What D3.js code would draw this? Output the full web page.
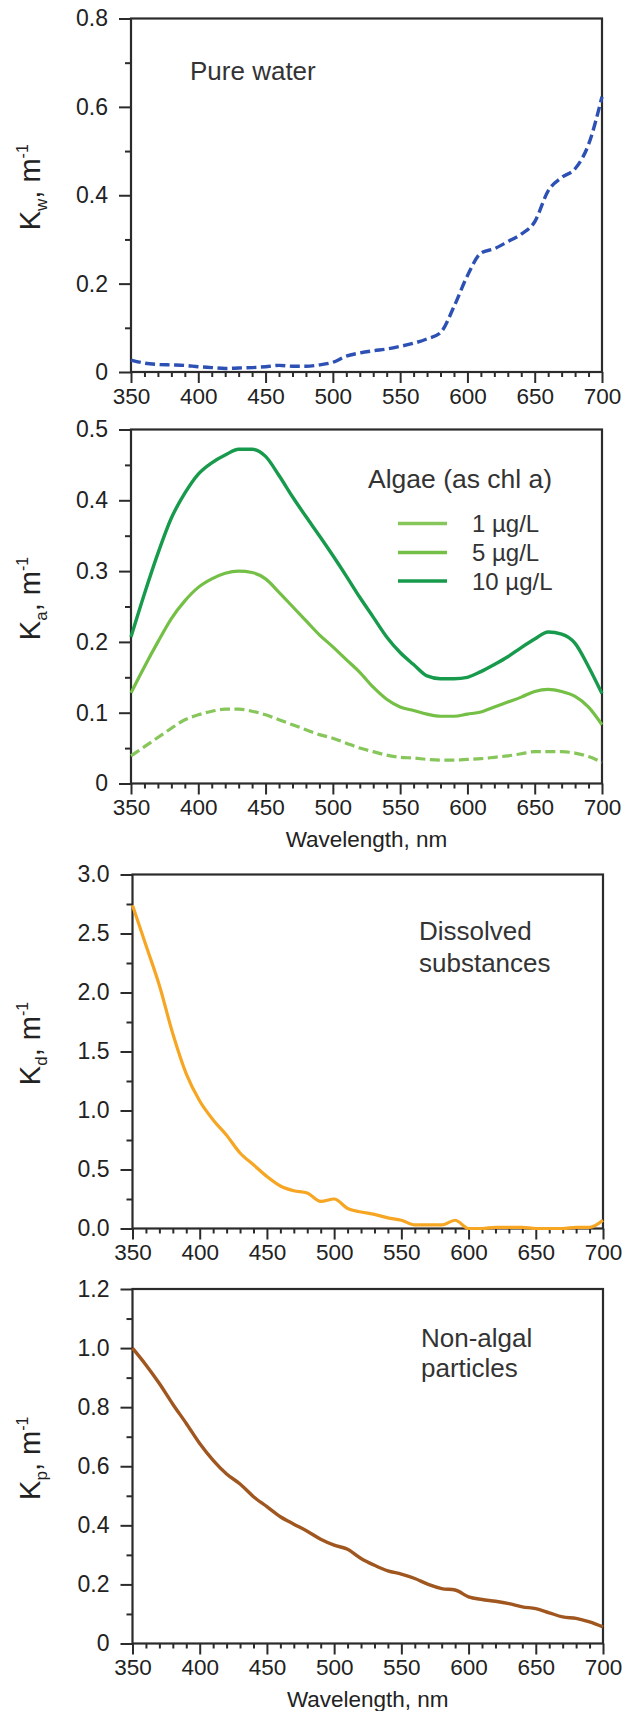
<!DOCTYPE html>
<html>
<head>
<meta charset="utf-8">
<script src="https://cdn.jsdelivr.net/npm/d3@7"></script>
<style>
  html, body { margin: 0; padding: 0; background: #fff; }
  svg { display: block; }
  text { font-family: "Liberation Sans", Arial, sans-serif; }
</style>
</head>
<body>
<script>
// ---------------- DATA ----------------
const wavelength = [350,360,370,380,390,400,410,420,430,440,450,460,470,480,490,500,510,520,530,540,550,560,570,580,590,600,610,620,630,640,650,660,670,680,690,700];

const pureWater = [0.027,0.020,0.017,0.016,0.015,0.012,0.010,0.008,0.009,0.010,0.012,0.015,0.013,0.013,0.016,0.022,0.036,0.043,0.048,0.052,0.058,0.065,0.075,0.089,0.148,0.218,0.269,0.279,0.295,0.312,0.340,0.410,0.440,0.460,0.515,0.623];

const algae1  = [0.039,0.052,0.065,0.078,0.090,0.097,0.102,0.105,0.105,0.102,0.097,0.090,0.083,0.076,0.069,0.064,0.057,0.050,0.045,0.040,0.037,0.036,0.034,0.033,0.033,0.034,0.035,0.037,0.039,0.042,0.045,0.045,0.045,0.043,0.038,0.030];
const algae5  = [0.128,0.165,0.200,0.233,0.258,0.277,0.289,0.297,0.300,0.298,0.289,0.270,0.250,0.230,0.210,0.193,0.175,0.157,0.136,0.119,0.108,0.103,0.098,0.095,0.095,0.098,0.101,0.108,0.115,0.122,0.130,0.133,0.130,0.123,0.108,0.083];
const algae10 = [0.207,0.268,0.325,0.375,0.410,0.437,0.453,0.464,0.472,0.472,0.462,0.435,0.405,0.377,0.350,0.322,0.293,0.263,0.235,0.207,0.185,0.168,0.152,0.148,0.148,0.150,0.158,0.168,0.179,0.192,0.204,0.214,0.211,0.198,0.165,0.127];

const dissolved = [2.74,2.40,2.06,1.65,1.31,1.08,0.92,0.79,0.64,0.54,0.44,0.36,0.32,0.30,0.23,0.25,0.17,0.14,0.12,0.09,0.07,0.03,0.03,0.03,0.07,0.00,0.00,0.01,0.01,0.01,0.00,0.00,0.00,0.01,0.01,0.07];

const nonAlgal = [1.00,0.943,0.880,0.810,0.745,0.677,0.620,0.574,0.540,0.497,0.463,0.429,0.404,0.380,0.353,0.333,0.319,0.288,0.265,0.246,0.235,0.220,0.200,0.186,0.181,0.158,0.149,0.143,0.135,0.124,0.118,0.104,0.090,0.085,0.073,0.056];

const xTicks = [350,400,450,500,550,600,650,700];
const xMinorTicks = [360,370,380,390,410,420,430,440,460,470,480,490,510,520,530,540,560,570,580,590,610,620,630,640,660,670,680,690];

const yTicksWater = [0,0.2,0.4,0.6,0.8];
const yLabelsWater = ["0","0.2","0.4","0.6","0.8"];
const yMinorWater = [0.1,0.3,0.5,0.7];

const yTicksAlgae = [0,0.1,0.2,0.3,0.4,0.5];
const yLabelsAlgae = ["0","0.1","0.2","0.3","0.4","0.5"];
const yMinorAlgae = [0.05,0.15,0.25,0.35,0.45];

const yTicksDiss = [0,0.5,1.0,1.5,2.0,2.5,3.0];
const yLabelsDiss = ["0.0","0.5","1.0","1.5","2.0","2.5","3.0"];
const yMinorDiss = [0.25,0.75,1.25,1.75,2.25,2.75];

const yTicksPart = [0,0.2,0.4,0.6,0.8,1.0,1.2];
const yLabelsPart = ["0","0.2","0.4","0.6","0.8","1.0","1.2"];
const yMinorPart = [0.1,0.3,0.5,0.7,0.9,1.1];

const legendLabels = ["1 µg/L","5 µg/L","10 µg/L"];
const xTitle = "Wavelength, nm";

// ---------------- DRAW ----------------
const W = 637, H = 1711;
const svg = d3.select("body").append("svg").attr("width", W).attr("height", H);
const axisColor = "#2b2b2b";
const textColor = "#222";

function panel(cfg) {
  const g = svg.append("g");
  const x = d3.scaleLinear().domain([350, 700]).range([cfg.x0, cfg.x1]);
  const y = d3.scaleLinear().domain([0, cfg.ymax]).range([cfg.y1, cfg.y0]);

  // minor x ticks
  g.append("g").attr("transform", `translate(0,${cfg.y1})`)
    .call(d3.axisBottom(x).tickValues(xMinorTicks).tickSize(5).tickFormat(""))
    .call(s => s.select(".domain").remove())
    .call(s => s.selectAll("line").attr("stroke", axisColor).attr("stroke-width", 2));
  // major x ticks
  const xa = g.append("g").attr("transform", `translate(0,${cfg.y1})`)
    .call(d3.axisBottom(x).tickValues(xTicks).tickSize(11).tickPadding(5).tickFormat(d3.format("d")))
    .call(s => s.select(".domain").remove())
    .call(s => s.selectAll("line").attr("stroke", axisColor).attr("stroke-width", 2))
    .call(s => s.selectAll("text").attr("font-size", 22.5).attr("fill", textColor)
                .attr("font-family", "Liberation Sans, Arial, sans-serif"));
  if (cfg.clipX) {
    const id = "clip" + cfg.y0.toFixed(0);
    svg.append("clipPath").attr("id", id).append("rect")
      .attr("x", 0).attr("y", -5).attr("width", cfg.clipX).attr("height", 60);
    xa.attr("clip-path", `url(#${id})`);
  }

  // minor y ticks
  g.append("g").attr("transform", `translate(${cfg.x0},0)`)
    .call(d3.axisLeft(y).tickValues(cfg.yMinor).tickSize(6).tickFormat(""))
    .call(s => s.select(".domain").remove())
    .call(s => s.selectAll("line").attr("stroke", axisColor).attr("stroke-width", 2));
  // major y ticks
  g.append("g").attr("transform", `translate(${cfg.x0},0)`)
    .call(d3.axisLeft(y).tickValues(cfg.yTicks).tickSize(12).tickPadding(11)
          .tickFormat((d, i) => cfg.yLabels[i]))
    .call(s => s.select(".domain").remove())
    .call(s => s.selectAll("line").attr("stroke", axisColor).attr("stroke-width", 2))
    .call(s => s.selectAll("text").attr("font-size", 23).attr("fill", textColor)
                .attr("font-family", "Liberation Sans, Arial, sans-serif"));

  // frame
  g.append("rect").attr("x", cfg.x0).attr("y", cfg.y0)
    .attr("width", cfg.x1 - cfg.x0).attr("height", cfg.y1 - cfg.y0)
    .attr("fill", "none").attr("stroke", axisColor).attr("stroke-width", 2.2);

  // series
  cfg.series.forEach(s => {
    const line = d3.line().x((d, i) => x(wavelength[i])).y(d => y(d)).curve(d3.curveMonotoneX);
    g.append("path").attr("d", line(s.values)).attr("fill", "none")
      .attr("stroke", s.color).attr("stroke-width", s.width)
      .attr("stroke-dasharray", s.dash || null)
      .attr("stroke-linejoin", "round");
  });

  // y title
  const cy = (cfg.y0 + cfg.y1) / 2 - 8;
  const t = g.append("text").attr("transform", `translate(40,${cy}) rotate(-90)`)
    .attr("text-anchor", "middle").attr("font-size", 29).attr("fill", textColor);
  t.append("tspan").text("K");
  t.append("tspan").attr("font-size", 17).attr("dy", 7).text(cfg.sub);
  t.append("tspan").attr("dy", -7).text(", m");
  t.append("tspan").attr("font-size", 16).attr("dy", -12).text("-1");

  // x title
  if (cfg.xTitle) {
    g.append("text").attr("x", (cfg.x0 + cfg.x1) / 2).attr("y", cfg.y1 + 63)
      .attr("text-anchor", "middle").attr("font-size", 22.5).attr("fill", textColor)
      .text(xTitle);
  }

  // annotation
  (cfg.notes || []).forEach(n => {
    g.append("text").attr("x", n.x).attr("y", n.y).attr("font-size", n.size || 26)
      .attr("fill", "#333").text(n.text);
  });
  return { g, x, y };
}

// Panel 1 — pure water
panel({
  x0: 131, x1: 602, y0: 18.5, y1: 372, ymax: 0.8,
  yTicks: yTicksWater, yLabels: yLabelsWater, yMinor: yMinorWater, sub: "w",
  series: [{ values: pureWater, color: "#2c50b4", width: 3.4, dash: "10,4.5" }],
  notes: [{ text: "Pure water", x: 190, y: 80 }]
});

// Panel 2 — algae
const colors = ["#86c65a", "#74bf45", "#179a4c"];
const p2 = panel({
  x0: 131, x1: 602, y0: 429.5, y1: 783.5, ymax: 0.5,
  yTicks: yTicksAlgae, yLabels: yLabelsAlgae, yMinor: yMinorAlgae, sub: "a", xTitle: true,
  series: [
    { values: algae1, color: colors[0], width: 3.2, dash: "10,4.5" },
    { values: algae5, color: colors[1], width: 3.2 },
    { values: algae10, color: colors[2], width: 3.4 }
  ],
  notes: [{ text: "Algae (as chl a)", x: 368, y: 488, size: 26.5 }]
});
const legY = [523.5, 552.5, 581];
legendLabels.forEach((lab, i) => {
  p2.g.append("line").attr("x1", 398).attr("x2", 447).attr("y1", legY[i]).attr("y2", legY[i])
    .attr("stroke", colors[i]).attr("stroke-width", 3.4);
  p2.g.append("text").attr("x", 472).attr("y", legY[i]).attr("dy", "0.36em")
    .attr("font-size", 24).attr("fill", "#333").text(lab);
});

// Panel 3 — dissolved substances
panel({
  x0: 132.5, x1: 603, y0: 874.5, y1: 1228.5, ymax: 3.0,
  yTicks: yTicksDiss, yLabels: yLabelsDiss, yMinor: yMinorDiss, sub: "d", clipX: 625,
  series: [{ values: dissolved, color: "#f6a623", width: 3.2 }],
  notes: [{ text: "Dissolved", x: 419, y: 940 }, { text: "substances", x: 419, y: 972 }]
});

// Panel 4 — non-algal particles
panel({
  x0: 132.5, x1: 603, y0: 1289, y1: 1643.5, ymax: 1.2,
  yTicks: yTicksPart, yLabels: yLabelsPart, yMinor: yMinorPart, sub: "p", xTitle: true, clipX: 625,
  series: [{ values: nonAlgal, color: "#a0561f", width: 3.4 }],
  notes: [{ text: "Non-algal", x: 421, y: 1347 }, { text: "particles", x: 421, y: 1377 }]
});
</script>
</body>
</html>
